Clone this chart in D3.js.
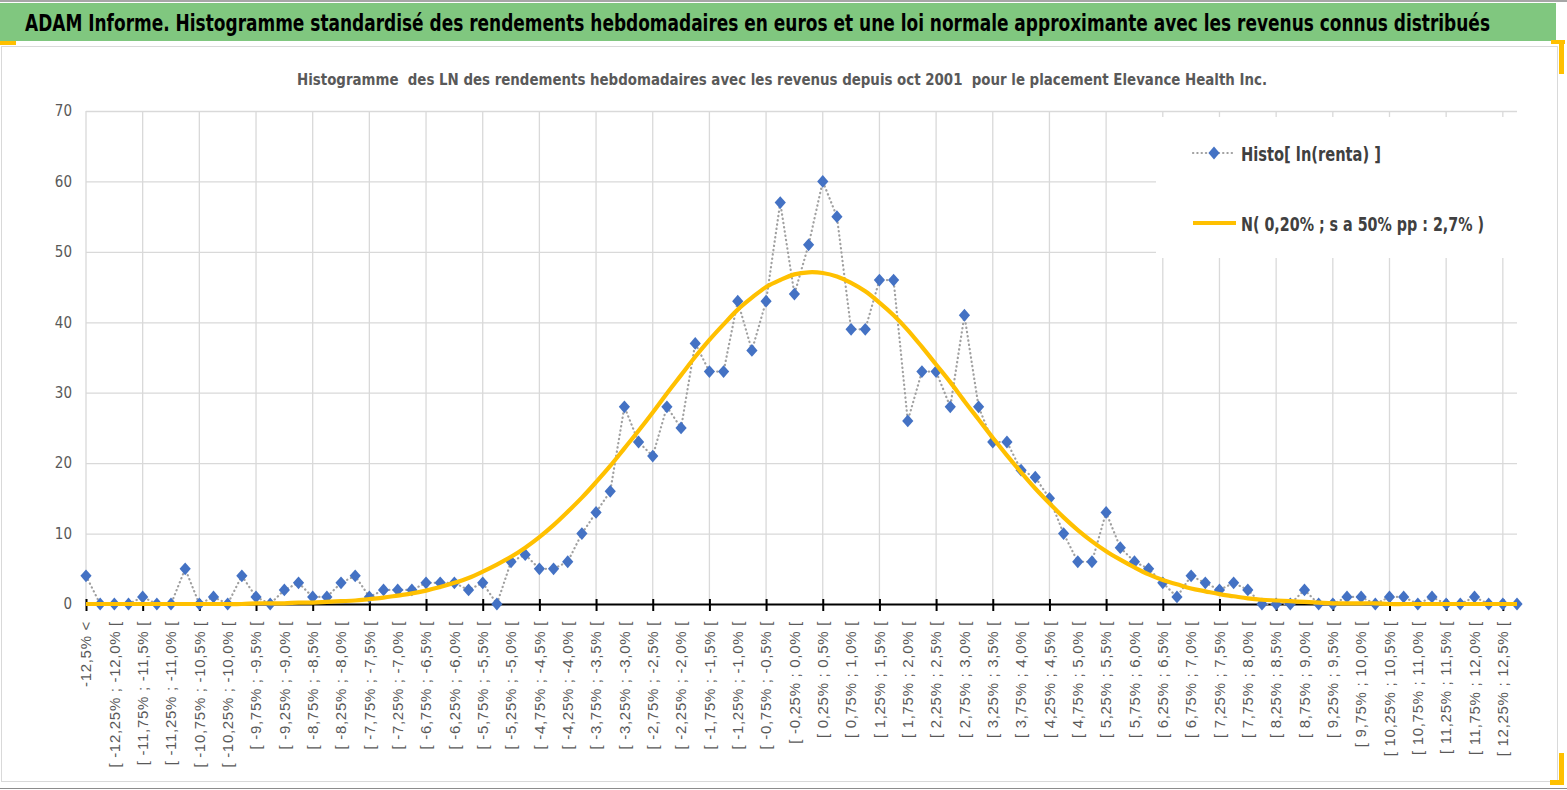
<!DOCTYPE html>
<html>
<head>
<meta charset="utf-8">
<script src="https://cdn.jsdelivr.net/npm/d3@7"></script>
<style>
  body { margin: 0; background: #fff; }
  svg { display: block; }
  text { white-space: pre; }
</style>
</head>
<body>
<svg id="chart" width="1567" height="790"></svg>
<script>
// category labels (one per bin of 0,25 %)
const categories = [
  "-12,5% <",
  "[ -12,5% ; -12,25% [", "[ -12,25% ; -12,0% [", "[ -12,0% ; -11,75% [", "[ -11,75% ; -11,5% [",
  "[ -11,5% ; -11,25% [", "[ -11,25% ; -11,0% [", "[ -11,0% ; -10,75% [", "[ -10,75% ; -10,5% [",
  "[ -10,5% ; -10,25% [", "[ -10,25% ; -10,0% [", "[ -10,0% ; -9,75% [", "[ -9,75% ; -9,5% [",
  "[ -9,5% ; -9,25% [", "[ -9,25% ; -9,0% [", "[ -9,0% ; -8,75% [", "[ -8,75% ; -8,5% [",
  "[ -8,5% ; -8,25% [", "[ -8,25% ; -8,0% [", "[ -8,0% ; -7,75% [", "[ -7,75% ; -7,5% [",
  "[ -7,5% ; -7,25% [", "[ -7,25% ; -7,0% [", "[ -7,0% ; -6,75% [", "[ -6,75% ; -6,5% [",
  "[ -6,5% ; -6,25% [", "[ -6,25% ; -6,0% [", "[ -6,0% ; -5,75% [", "[ -5,75% ; -5,5% [",
  "[ -5,5% ; -5,25% [", "[ -5,25% ; -5,0% [", "[ -5,0% ; -4,75% [", "[ -4,75% ; -4,5% [",
  "[ -4,5% ; -4,25% [", "[ -4,25% ; -4,0% [", "[ -4,0% ; -3,75% [", "[ -3,75% ; -3,5% [",
  "[ -3,5% ; -3,25% [", "[ -3,25% ; -3,0% [", "[ -3,0% ; -2,75% [", "[ -2,75% ; -2,5% [",
  "[ -2,5% ; -2,25% [", "[ -2,25% ; -2,0% [", "[ -2,0% ; -1,75% [", "[ -1,75% ; -1,5% [",
  "[ -1,5% ; -1,25% [", "[ -1,25% ; -1,0% [", "[ -1,0% ; -0,75% [", "[ -0,75% ; -0,5% [",
  "[ -0,5% ; -0,25% [", "[ -0,25% ; 0,0% [", "[ 0,0% ; 0,25% [", "[ 0,25% ; 0,5% [",
  "[ 0,5% ; 0,75% [", "[ 0,75% ; 1,0% [", "[ 1,0% ; 1,25% [", "[ 1,25% ; 1,5% [",
  "[ 1,5% ; 1,75% [", "[ 1,75% ; 2,0% [", "[ 2,0% ; 2,25% [", "[ 2,25% ; 2,5% [",
  "[ 2,5% ; 2,75% [", "[ 2,75% ; 3,0% [", "[ 3,0% ; 3,25% [", "[ 3,25% ; 3,5% [",
  "[ 3,5% ; 3,75% [", "[ 3,75% ; 4,0% [", "[ 4,0% ; 4,25% [", "[ 4,25% ; 4,5% [",
  "[ 4,5% ; 4,75% [", "[ 4,75% ; 5,0% [", "[ 5,0% ; 5,25% [", "[ 5,25% ; 5,5% [",
  "[ 5,5% ; 5,75% [", "[ 5,75% ; 6,0% [", "[ 6,0% ; 6,25% [", "[ 6,25% ; 6,5% [",
  "[ 6,5% ; 6,75% [", "[ 6,75% ; 7,0% [", "[ 7,0% ; 7,25% [", "[ 7,25% ; 7,5% [",
  "[ 7,5% ; 7,75% [", "[ 7,75% ; 8,0% [", "[ 8,0% ; 8,25% [", "[ 8,25% ; 8,5% [",
  "[ 8,5% ; 8,75% [", "[ 8,75% ; 9,0% [", "[ 9,0% ; 9,25% [", "[ 9,25% ; 9,5% [",
  "[ 9,5% ; 9,75% [", "[ 9,75% ; 10,0% [", "[ 10,0% ; 10,25% [", "[ 10,25% ; 10,5% [",
  "[ 10,5% ; 10,75% [", "[ 10,75% ; 11,0% [", "[ 11,0% ; 11,25% [", "[ 11,25% ; 11,5% [",
  "[ 11,5% ; 11,75% [", "[ 11,75% ; 12,0% [", "[ 12,0% ; 12,25% [", "[ 12,25% ; 12,5% [",
  "> 12,5%"
];

// weekly log-return counts per bin
const histo = [
  4, 0, 0, 0, 1, 0, 0, 5, 0, 1,
  0, 4, 1, 0, 2, 3, 1, 1, 3, 4,
  1, 2, 2, 2, 3, 3, 3, 2, 3, 0,
  6, 7, 5, 5, 6, 10, 13, 16, 28, 23,
  21, 28, 25, 37, 33, 33, 43, 36, 43, 57,
  44, 51, 60, 55, 39, 39, 46, 46, 26, 33,
  33, 28, 41, 28, 23, 23, 19, 18, 15, 10,
  6, 6, 13, 8, 6, 5, 3, 1, 4, 3,
  2, 3, 2, 0, 0, 0, 2, 0, 0, 1,
  1, 0, 1, 1, 0, 1, 0, 0, 1, 0,
  0, 0
];

// fitted normal law
const normal = [
  0, 0, 0, 0, 0, 0, 0, 0, 0, 0,
  0, 0, 0.1, 0.1, 0.1, 0.2, 0.2, 0.3, 0.4, 0.5,
  0.7, 0.9, 1.2, 1.5, 1.9, 2.4, 3.0, 3.7, 4.6, 5.6,
  6.7, 8.0, 9.5, 11.2, 13.1, 15.1, 17.3, 19.6, 22.1, 24.6,
  27.2, 29.9, 32.5, 35.1, 37.5, 39.7, 41.8, 43.5, 45.0, 46.0,
  46.8, 47.1, 47.0, 46.5, 45.6, 44.4, 42.8, 41.0, 38.9, 36.5,
  34.0, 31.5, 28.8, 26.2, 23.6, 21.1, 18.7, 16.4, 14.3, 12.3,
  10.5, 8.9, 7.5, 6.3, 5.2, 4.2, 3.4, 2.8, 2.2, 1.8,
  1.4, 1.1, 0.8, 0.6, 0.5, 0.4, 0.3, 0.2, 0.1, 0.1,
  0.1, 0.1, 0, 0, 0, 0, 0, 0, 0, 0,
  0, 0
];

const yTicks = [0, 10, 20, 30, 40, 50, 60, 70];

const title = "ADAM Informe. Histogramme standardisé des rendements hebdomadaires en euros et une loi normale approximante avec les revenus connus distribués";
const subtitle = "Histogramme  des LN des rendements hebdomadaires avec les revenus depuis oct 2001  pour le placement Elevance Health Inc.";
const legendLabels = ["Histo[ ln(renta) ]", "N( 0,20% ; s a 50% pp : 2,7% )"];

const narrow = "'Liberation Sans Narrow', 'DejaVu Sans Condensed', 'Open Sans', sans-serif";

const svg = d3.select("#chart");
const W = 1567, H = 790;

svg.append("rect").attr("width", W).attr("height", H).attr("fill", "#fff");

// header band
svg.append("line").attr("x1", 0).attr("x2", W).attr("y1", 1).attr("y2", 1)
    .attr("stroke", "#a6a6a6").attr("stroke-width", 2);
svg.append("rect").attr("x", 0).attr("y", 3).attr("width", 1556).attr("height", 38)
    .attr("fill", "#80c77f");
svg.append("text")
    .attr("x", 25).attr("y", 31)
    .attr("font-family", narrow).attr("font-weight", "bold").attr("font-size", 23)
    .attr("fill", "#000")
    .attr("textLength", 1465).attr("lengthAdjust", "spacingAndGlyphs")
    .text(title);

// chart area frame
svg.append("rect").attr("x", 1.5).attr("y", 46.5).attr("width", 1556).attr("height", 735)
    .attr("fill", "none").attr("stroke", "#d9d9d9");
svg.append("line").attr("x1", 0).attr("x2", W).attr("y1", 788.5).attr("y2", 788.5)
    .attr("stroke", "#8c8c8c");

// selection handles
const orange = "#ffc000";
svg.append("rect").attr("x", 0).attr("y", 41).attr("width", 16).attr("height", 4).attr("fill", orange);
svg.append("rect").attr("x", 1551).attr("y", 40).attr("width", 14).attr("height", 4).attr("fill", orange);
svg.append("rect").attr("x", 1559).attr("y", 40).attr("width", 5).attr("height", 34).attr("fill", orange);
svg.append("rect").attr("x", 1559).attr("y", 753).attr("width", 5).attr("height", 32).attr("fill", orange);
svg.append("rect").attr("x", 1550).attr("y", 780).attr("width", 14).attr("height", 5).attr("fill", orange);

svg.append("text")
    .attr("x", 782).attr("y", 85)
    .attr("text-anchor", "middle")
    .attr("font-family", narrow).attr("font-weight", "bold").attr("font-size", 16)
    .attr("fill", "#595959")
    .attr("textLength", 970).attr("lengthAdjust", "spacingAndGlyphs")
    .text(subtitle);

// scales
const x = d3.scalePoint().domain(d3.range(categories.length)).range([86, 1517]);
const y = d3.scaleLinear().domain([0, 70]).range([604, 111]);

const gridIdx = d3.range(categories.length).filter(i => i % 4 === 0);

// gridlines
svg.append("g").selectAll("line").data(yTicks.slice(1)).join("line")
    .attr("x1", 86).attr("x2", 1517)
    .attr("y1", d => y(d) + 0.5).attr("y2", d => y(d) + 0.5)
    .attr("stroke", "#d9d9d9").attr("stroke-width", 1.3);
svg.append("g").selectAll("line").data(gridIdx).join("line")
    .attr("x1", d => x(d)).attr("x2", d => x(d))
    .attr("y1", y(70)).attr("y2", y(0))
    .attr("stroke", "#d9d9d9").attr("stroke-width", 1.3);

// y axis labels
const yAxis = svg.append("g").attr("transform", "translate(86,0)")
    .call(d3.axisLeft(y).tickValues(yTicks).tickSize(0).tickPadding(14));
yAxis.select(".domain").remove();
yAxis.selectAll("text")
    .attr("font-family", narrow).attr("font-size", 15).attr("fill", "#595959");

// legend background hides the gridlines
svg.append("rect").attr("x", 1156).attr("y", 117).attr("width", 361).attr("height", 141)
    .attr("fill", "#fff");

// x axis: line with crossing ticks
const xAxis = svg.append("g").attr("transform", `translate(0,${y(0)})`)
    .call(d3.axisBottom(x).tickValues(gridIdx).tickSize(7).tickSizeOuter(0).tickFormat(""));
xAxis.select(".domain").attr("stroke", "#000").attr("stroke-width", 2.2);
xAxis.selectAll(".tick line").attr("y1", -5).attr("stroke", "#000").attr("stroke-width", 2);

// rotated category labels, every second one
svg.append("g").selectAll("text")
    .data(d3.range(categories.length).filter(i => i % 2 === 0))
    .join("text")
    .attr("transform", d => `translate(${x(d)},621) rotate(-90)`)
    .attr("text-anchor", "end")
    .attr("dy", "0.35em")
    .attr("font-family", "'Liberation Sans', Arial, sans-serif")
    .attr("font-size", 15)
    .attr("letter-spacing", 0.7)
    .attr("fill", "#595959")
    .text(d => categories[d]);

// histogram series: dotted line + diamonds
const diamond = (w, h) => `M0,${-h}L${w},0L0,${h}L${-w},0Z`;

svg.append("path")
    .datum(histo)
    .attr("fill", "none")
    .attr("stroke", "#a0a0a0")
    .attr("stroke-width", 2.2)
    .attr("stroke-linecap", "round")
    .attr("stroke-dasharray", "0.3 4")
    .attr("d", d3.line().x((d, i) => x(i)).y(d => y(d)));

svg.append("g").selectAll("path").data(histo).join("path")
    .attr("transform", (d, i) => `translate(${x(i)},${y(d)})`)
    .attr("d", diamond(5.6, 6.4))
    .attr("fill", "#4472c4");

// normal law
svg.append("path")
    .datum(normal)
    .attr("fill", "none")
    .attr("stroke", orange)
    .attr("stroke-width", 4.2)
    .attr("stroke-linejoin", "round")
    .attr("d", d3.line().x((d, i) => x(i)).y(d => y(d)).curve(d3.curveCatmullRom.alpha(0.5)));

// legend
const lg = svg.append("g");
lg.append("line").attr("x1", 1193).attr("x2", 1236).attr("y1", 153).attr("y2", 153)
    .attr("stroke", "#a0a0a0").attr("stroke-width", 2.2)
    .attr("stroke-linecap", "round").attr("stroke-dasharray", "0.3 4");
lg.append("path").attr("transform", "translate(1214,153)").attr("d", diamond(5.6, 6.4))
    .attr("fill", "#4472c4");
lg.append("line").attr("x1", 1193).attr("x2", 1236).attr("y1", 223).attr("y2", 223)
    .attr("stroke", orange).attr("stroke-width", 4.2);
lg.selectAll("text").data(legendLabels).join("text")
    .attr("x", 1241)
    .attr("y", (d, i) => i === 0 ? 161 : 231)
    .attr("font-family", narrow).attr("font-weight", "bold").attr("font-size", 20)
    .attr("fill", "#404040")
    .attr("textLength", (d, i) => i === 0 ? 140 : 243)
    .attr("lengthAdjust", "spacingAndGlyphs")
    .text(d => d);
</script>
</body>
</html>
